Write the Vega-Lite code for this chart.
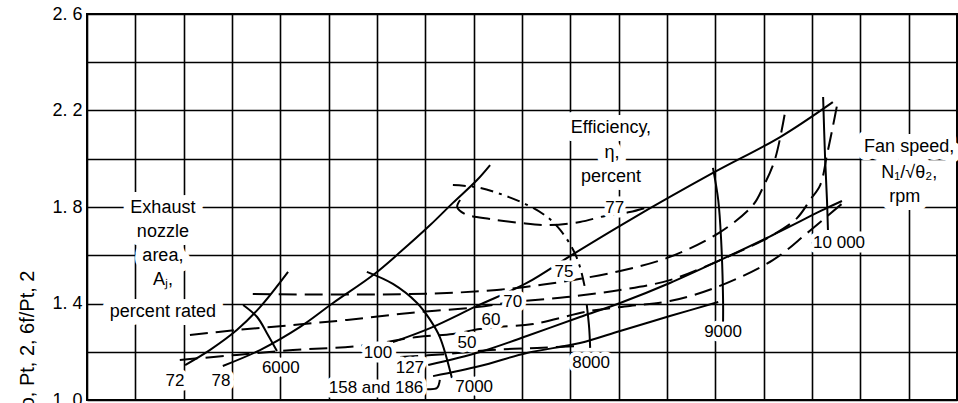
{
  "$schema": "https://vega.github.io/schema/vega-lite/v6.json",
  "width": 870,
  "height": 386,
  "autosize": {"type": "none"},
  "padding": {"left": 87, "top": 14, "right": 1, "bottom": 3},
  "background": "white",
  "config": {
    "font": "Liberation Sans",
    "view": {"stroke": "black", "strokeWidth": 2}
  },
  "datasets": {
    "curves": [
      {"s":"A72","g":"nozzle","i":0,"x":20.3,"y":1.145},
      {"s":"A72","g":"nozzle","i":1,"x":25.4,"y":1.207},
      {"s":"A72","g":"nozzle","i":2,"x":31.0,"y":1.290},
      {"s":"A72","g":"nozzle","i":3,"x":35.8,"y":1.385},
      {"s":"A72","g":"nozzle","i":4,"x":41.6,"y":1.531},
      {"s":"A78","g":"nozzle","i":0,"x":28.1,"y":1.141},
      {"s":"A78","g":"nozzle","i":1,"x":35.8,"y":1.207},
      {"s":"A78","g":"nozzle","i":2,"x":44.1,"y":1.303},
      {"s":"A78","g":"nozzle","i":3,"x":50.9,"y":1.402},
      {"s":"A78","g":"nozzle","i":4,"x":59.2,"y":1.518},
      {"s":"A78","g":"nozzle","i":5,"x":64.8,"y":1.613},
      {"s":"A78","g":"nozzle","i":6,"x":71.0,"y":1.725},
      {"s":"A78","g":"nozzle","i":7,"x":75.7,"y":1.817},
      {"s":"A78","g":"nozzle","i":8,"x":80.7,"y":1.912},
      {"s":"A78","g":"nozzle","i":9,"x":83.4,"y":1.974},
      {"s":"A100","g":"nozzle","i":0,"x":63.3,"y":1.240},
      {"s":"A100","g":"nozzle","i":1,"x":71.0,"y":1.298},
      {"s":"A100","g":"nozzle","i":2,"x":80.7,"y":1.390},
      {"s":"A100","g":"nozzle","i":3,"x":91.0,"y":1.485},
      {"s":"A100","g":"nozzle","i":4,"x":100.6,"y":1.605},
      {"s":"A100","g":"nozzle","i":5,"x":112.3,"y":1.746},
      {"s":"A100","g":"nozzle","i":6,"x":129.5,"y":1.941},
      {"s":"A100","g":"nozzle","i":7,"x":143.4,"y":2.090},
      {"s":"A100","g":"nozzle","i":8,"x":154.3,"y":2.235},
      {"s":"A127","g":"nozzle","i":0,"x":70.6,"y":1.145},
      {"s":"A127","g":"nozzle","i":1,"x":81.3,"y":1.199},
      {"s":"A127","g":"nozzle","i":2,"x":91.0,"y":1.265},
      {"s":"A127","g":"nozzle","i":3,"x":102.0,"y":1.344},
      {"s":"A127","g":"nozzle","i":4,"x":110.3,"y":1.402},
      {"s":"A127","g":"nozzle","i":5,"x":120.6,"y":1.485},
      {"s":"A127","g":"nozzle","i":6,"x":131.0,"y":1.580},
      {"s":"A127","g":"nozzle","i":7,"x":140.7,"y":1.672},
      {"s":"A127","g":"nozzle","i":8,"x":153.1,"y":1.796},
      {"s":"A127","g":"nozzle","i":9,"x":156.2,"y":1.825},
      {"s":"A158","g":"nozzle","i":0,"x":71.6,"y":1.099},
      {"s":"A158","g":"nozzle","i":1,"x":81.3,"y":1.141},
      {"s":"A158","g":"nozzle","i":2,"x":91.0,"y":1.195},
      {"s":"A158","g":"nozzle","i":3,"x":102.0,"y":1.236},
      {"s":"A158","g":"nozzle","i":4,"x":110.3,"y":1.286},
      {"s":"A158","g":"nozzle","i":5,"x":120.6,"y":1.348},
      {"s":"A158","g":"nozzle","i":6,"x":130.6,"y":1.406},
      {"s":"L158","g":"nozzle","i":0,"x":69.9,"y":1.046},
      {"s":"L158","g":"nozzle","i":1,"x":72.4,"y":1.050},
      {"s":"L158","g":"nozzle","i":2,"x":73.0,"y":1.083},
      {"s":"S6000","g":"speed","i":0,"x":32.3,"y":1.394},
      {"s":"S6000","g":"speed","i":1,"x":35.2,"y":1.344},
      {"s":"S6000","g":"speed","i":2,"x":37.2,"y":1.278},
      {"s":"S6000","g":"speed","i":3,"x":39.3,"y":1.203},
      {"s":"S7000","g":"speed","i":0,"x":57.9,"y":1.531},
      {"s":"S7000","g":"speed","i":1,"x":63.3,"y":1.481},
      {"s":"S7000","g":"speed","i":2,"x":68.3,"y":1.402},
      {"s":"S7000","g":"speed","i":3,"x":71.0,"y":1.332},
      {"s":"S7000","g":"speed","i":4,"x":73.0,"y":1.261},
      {"s":"S7000","g":"speed","i":5,"x":75.5,"y":1.091},
      {"s":"S8000","g":"speed","i":0,"x":103.4,"y":1.394},
      {"s":"S8000","g":"speed","i":1,"x":103.9,"y":1.298},
      {"s":"S8000","g":"speed","i":2,"x":104.1,"y":1.216},
      {"s":"S9000","g":"speed","i":0,"x":129.5,"y":1.962},
      {"s":"S9000","g":"speed","i":1,"x":130.6,"y":1.829},
      {"s":"S9000","g":"speed","i":2,"x":131.2,"y":1.663},
      {"s":"S9000","g":"speed","i":3,"x":131.6,"y":1.415},
      {"s":"S9000","g":"speed","i":4,"x":131.6,"y":1.323},
      {"s":"S10000","g":"speed","i":0,"x":152.3,"y":2.256},
      {"s":"S10000","g":"speed","i":1,"x":152.7,"y":2.007},
      {"s":"S10000","g":"speed","i":2,"x":153.1,"y":1.829},
      {"s":"S10000","g":"speed","i":3,"x":153.3,"y":1.705},
      {"s":"S8000u","g":"speed-extrap","i":0,"x":75.7,"y":1.891},
      {"s":"S8000u","g":"speed-extrap","i":1,"x":81.3,"y":1.879},
      {"s":"S8000u","g":"speed-extrap","i":2,"x":90.2,"y":1.817},
      {"s":"S8000u","g":"speed-extrap","i":3,"x":95.2,"y":1.759},
      {"s":"S8000u","g":"speed-extrap","i":4,"x":97.9,"y":1.705},
      {"s":"S8000u","g":"speed-extrap","i":5,"x":100.6,"y":1.622},
      {"s":"S8000u","g":"speed-extrap","i":6,"x":102.0,"y":1.551},
      {"s":"S8000u","g":"speed-extrap","i":7,"x":103.2,"y":1.448},
      {"s":"E77","g":"efficiency","i":0,"x":77.2,"y":1.829},
      {"s":"E77","g":"efficiency","i":1,"x":76.6,"y":1.800},
      {"s":"E77","g":"efficiency","i":2,"x":78.2,"y":1.771},
      {"s":"E77","g":"efficiency","i":3,"x":83.4,"y":1.750},
      {"s":"E77","g":"efficiency","i":4,"x":89.6,"y":1.734},
      {"s":"E77","g":"efficiency","i":5,"x":95.8,"y":1.725},
      {"s":"E77","g":"efficiency","i":6,"x":102.0,"y":1.738},
      {"s":"E77","g":"efficiency","i":7,"x":107.2,"y":1.763},
      {"s":"E77","g":"efficiency","i":8,"x":112.3,"y":1.779},
      {"s":"E77","g":"efficiency","i":9,"x":116.1,"y":1.800},
      {"s":"E75","g":"efficiency","i":0,"x":34.3,"y":1.439},
      {"s":"E75","g":"efficiency","i":1,"x":66.8,"y":1.439},
      {"s":"E75","g":"efficiency","i":2,"x":84.8,"y":1.456},
      {"s":"E75","g":"efficiency","i":3,"x":97.9,"y":1.489},
      {"s":"E75","g":"efficiency","i":4,"x":110.3,"y":1.535},
      {"s":"E75","g":"efficiency","i":5,"x":120.6,"y":1.593},
      {"s":"E75","g":"efficiency","i":6,"x":131.0,"y":1.696},
      {"s":"E75","g":"efficiency","i":7,"x":137.8,"y":1.808},
      {"s":"E75","g":"efficiency","i":8,"x":139.9,"y":1.883},
      {"s":"E75","g":"efficiency","i":9,"x":142.3,"y":1.995},
      {"s":"E75","g":"efficiency","i":10,"x":144.4,"y":2.190},
      {"s":"E70","g":"efficiency","i":0,"x":21.3,"y":1.269},
      {"s":"E70","g":"efficiency","i":1,"x":31.0,"y":1.290},
      {"s":"E70","g":"efficiency","i":2,"x":42.6,"y":1.311},
      {"s":"E70","g":"efficiency","i":3,"x":53.8,"y":1.332},
      {"s":"E70","g":"efficiency","i":4,"x":66.8,"y":1.361},
      {"s":"E70","g":"efficiency","i":5,"x":80.7,"y":1.385},
      {"s":"E70","g":"efficiency","i":6,"x":88.1,"y":1.406},
      {"s":"E70","g":"efficiency","i":7,"x":99.3,"y":1.427},
      {"s":"E70","g":"efficiency","i":8,"x":110.3,"y":1.456},
      {"s":"E70","g":"efficiency","i":9,"x":120.6,"y":1.497},
      {"s":"E70","g":"efficiency","i":10,"x":131.0,"y":1.580},
      {"s":"E70","g":"efficiency","i":11,"x":141.9,"y":1.684},
      {"s":"E70","g":"efficiency","i":12,"x":146.9,"y":1.754},
      {"s":"E70","g":"efficiency","i":13,"x":149.6,"y":1.829},
      {"s":"E70","g":"efficiency","i":14,"x":151.7,"y":1.891},
      {"s":"E70","g":"efficiency","i":15,"x":153.1,"y":2.016},
      {"s":"E70","g":"efficiency","i":16,"x":154.3,"y":2.132},
      {"s":"E70","g":"efficiency","i":17,"x":155.4,"y":2.244},
      {"s":"E60","g":"efficiency","i":0,"x":19.2,"y":1.166},
      {"s":"E60","g":"efficiency","i":1,"x":31.0,"y":1.187},
      {"s":"E60","g":"efficiency","i":2,"x":42.6,"y":1.207},
      {"s":"E60","g":"efficiency","i":3,"x":56.5,"y":1.224},
      {"s":"E60","g":"efficiency","i":4,"x":68.3,"y":1.261},
      {"s":"E60","g":"efficiency","i":5,"x":75.7,"y":1.274},
      {"s":"E60","g":"efficiency","i":6,"x":81.3,"y":1.294},
      {"s":"E60","g":"efficiency","i":7,"x":85.4,"y":1.303},
      {"s":"E60","g":"efficiency","i":8,"x":92.3,"y":1.315},
      {"s":"E60","g":"efficiency","i":9,"x":104.1,"y":1.369},
      {"s":"E60","g":"efficiency","i":10,"x":112.3,"y":1.390},
      {"s":"E60","g":"efficiency","i":11,"x":120.6,"y":1.410},
      {"s":"E60","g":"efficiency","i":12,"x":130.3,"y":1.468},
      {"s":"E60","g":"efficiency","i":13,"x":141.9,"y":1.580},
      {"s":"E60","g":"efficiency","i":14,"x":149.0,"y":1.692},
      {"s":"E60","g":"efficiency","i":15,"x":156.4,"y":1.817},
      {"s":"E50","g":"efficiency","i":0,"x":64.8,"y":1.178},
      {"s":"E50","g":"efficiency","i":1,"x":74.5,"y":1.191},
      {"s":"E50","g":"efficiency","i":2,"x":83.4,"y":1.207},
      {"s":"E50","g":"efficiency","i":3,"x":93.1,"y":1.216},
      {"s":"E50","g":"efficiency","i":4,"x":102.0,"y":1.224}
    ],
    "labels": [
      {"t":"Exhaust","g":"big","x":15.7,"y":1.796},
      {"t":"nozzle","g":"big","x":15.7,"y":1.696},
      {"t":"area,","g":"big","x":15.7,"y":1.597},
      {"t":"Aⱼ,","g":"big","x":15.7,"y":1.497},
      {"t":"percent rated","g":"big","x":15.7,"y":1.365},
      {"t":"Efficiency,","g":"big","x":108.4,"y":2.127},
      {"t":"η,","g":"big","x":108.6,"y":2.024},
      {"t":"percent","g":"big","x":108.4,"y":1.924},
      {"t":"Fan speed,","g":"big","x":170.1,"y":2.049},
      {"t":"N₁/√θ₂,","g":"big","x":170.1,"y":1.941},
      {"t":"rpm","g":"big","x":169.2,"y":1.841},
      {"t":"72","g":"num","x":18.2,"y":1.079},
      {"t":"78","g":"num","x":27.7,"y":1.079},
      {"t":"6000","g":"num","x":40.1,"y":1.133},
      {"t":"100","g":"num","x":60.2,"y":1.195},
      {"t":"127","g":"num","x":66.8,"y":1.133},
      {"t":"158 and 186","g":"num","x":59.8,"y":1.050},
      {"t":"7000","g":"num","x":80.1,"y":1.054},
      {"t":"50","g":"num","x":78.6,"y":1.236},
      {"t":"60","g":"num","x":83.6,"y":1.332},
      {"t":"70","g":"num","x":88.1,"y":1.406},
      {"t":"75","g":"num","x":98.7,"y":1.531},
      {"t":"77","g":"num","x":109.2,"y":1.796},
      {"t":"8000","g":"num","x":104.3,"y":1.153},
      {"t":"9000","g":"num","x":131.6,"y":1.282},
      {"t":"10 000","g":"num","x":155.6,"y":1.651}
    ]
  },
  "encoding": {
    "x": {
      "field": "x", "type": "quantitative",
      "scale": {"domain": [0, 180], "nice": false, "zero": false},
      "axis": {
        "values": [0,10,20,30,40,50,60,70,80,90,100,110,120,130,140,150,160,170,180],
        "grid": true, "gridColor": "black", "gridWidth": 1.6, "gridOpacity": 1,
        "labels": false, "ticks": false, "domain": false, "title": null
      }
    },
    "y": {
      "field": "y", "type": "quantitative",
      "scale": {"domain": [1.0, 2.6], "nice": false, "zero": false},
      "axis": {
        "values": [1.0,1.2,1.4,1.6,1.8,2.0,2.2,2.4,2.6],
        "grid": true, "gridColor": "black", "gridWidth": 1.6, "gridOpacity": 1,
        "ticks": false, "domain": false,
        "labelExpr": "round(datum.value*10) % 4 == 2 ? replace(format(datum.value, '.1f'), '.', '. ') : ''",
        "labelFont": "Liberation Sans", "labelFontSize": 18, "labelColor": "black", "labelPadding": 5,
        "title": "Fan pressure ratio, Pt, 2, 6f/Pt, 2",
        "titleFont": "Liberation Sans", "titleFontSize": 20, "titleFontWeight": "normal", "titleColor": "black",
        "titleAngle": 270, "titleAlign": "right", "titleBaseline": "middle",
        "titleX": -60, "titleY": 256
      }
    }
  },
  "layer": [
    {
      "data": {"name": "curves"},
      "transform": [{"filter": "datum.g == 'nozzle' || datum.g == 'speed'"}],
      "mark": {"type": "line", "interpolate": "catmull-rom", "color": "black", "strokeWidth": 2, "clip": false},
      "encoding": {"detail": {"field": "s"}, "order": {"field": "i", "type": "quantitative"}}
    },
    {
      "data": {"name": "curves"},
      "transform": [{"filter": "datum.g == 'efficiency'"}],
      "mark": {"type": "line", "interpolate": "catmull-rom", "color": "black", "strokeWidth": 2, "strokeDash": [18, 8], "clip": false},
      "encoding": {"detail": {"field": "s"}, "order": {"field": "i", "type": "quantitative"}}
    },
    {
      "data": {"name": "curves"},
      "transform": [{"filter": "datum.g == 'speed-extrap'"}],
      "mark": {"type": "line", "interpolate": "catmull-rom", "color": "black", "strokeWidth": 2, "strokeDash": [13, 6, 3, 6], "clip": false},
      "encoding": {"detail": {"field": "s"}, "order": {"field": "i", "type": "quantitative"}}
    },
    {
      "data": {"name": "labels"},
      "transform": [{"filter": "datum.g == 'big'"}],
      "mark": {"type": "text", "font": "Liberation Sans", "fontSize": 18, "fill": "white", "stroke": "white", "strokeWidth": 16, "strokeJoin": "round", "align": "center", "baseline": "middle"},
      "encoding": {"text": {"field": "t"}}
    },
    {
      "data": {"name": "labels"},
      "transform": [{"filter": "datum.g == 'num'"}],
      "mark": {"type": "text", "font": "Liberation Sans", "fontSize": 17, "fill": "white", "stroke": "white", "strokeWidth": 9, "strokeJoin": "round", "align": "center", "baseline": "middle"},
      "encoding": {"text": {"field": "t"}}
    },
    {
      "data": {"name": "labels"},
      "transform": [{"filter": "datum.g == 'big'"}],
      "mark": {"type": "text", "font": "Liberation Sans", "fontSize": 18, "fill": "black", "align": "center", "baseline": "middle"},
      "encoding": {"text": {"field": "t"}}
    },
    {
      "data": {"name": "labels"},
      "transform": [{"filter": "datum.g == 'num'"}],
      "mark": {"type": "text", "font": "Liberation Sans", "fontSize": 17, "fill": "black", "align": "center", "baseline": "middle"},
      "encoding": {"text": {"field": "t"}}
    }
  ]
}
